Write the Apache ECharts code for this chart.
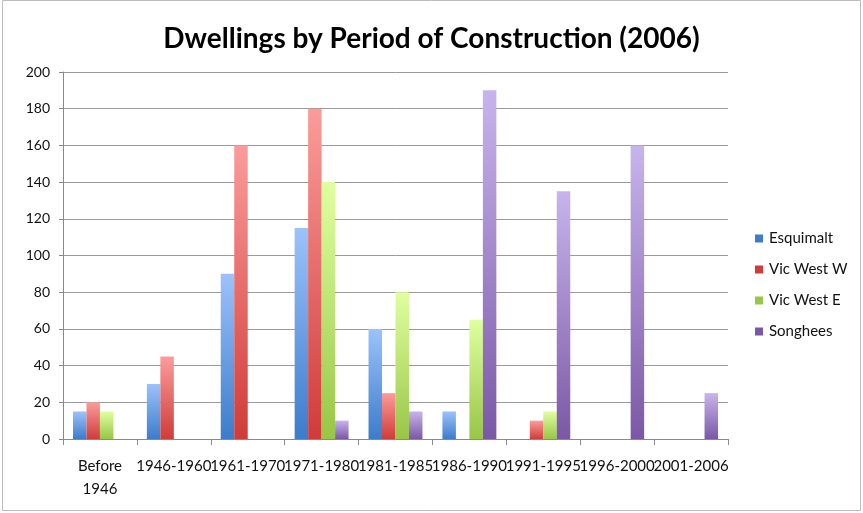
<!DOCTYPE html>
<html>
<head>
<meta charset="utf-8">
<script src="https://cdn.jsdelivr.net/npm/echarts@6/dist/echarts.min.js"></script>
<style>
html,body{margin:0;padding:0;background:#fff;}
#chart{width:863px;height:513px;}
</style>
</head>
<body>
<div id="chart"></div>
<script>
// Construction periods (x categories)
const periods = ['Before\n1946', '1946-1960', '1961-1970', '1971-1980', '1981-1985', '1986-1990', '1991-1995', '1996-2000', '2001-2006'];

// Dwelling counts per neighbourhood
const esquimalt = [15, 30, 90, 115, 60, 15, 0, 0, 0];
const vicWestW  = [20, 45, 160, 180, 25, 0, 10, 0, 0];
const vicWestE  = [15, 0, 0, 140, 80, 65, 15, 0, 0];
const songhees  = [0, 0, 0, 10, 15, 190, 135, 160, 25];

const seriesNames = ['Esquimalt', 'Vic West W', 'Vic West E', 'Songhees'];
const seriesData = [esquimalt, vicWestW, vicWestE, songhees];

// Top/bottom gradient colours for each series
const palette = [
  ['#9cc2fb', '#3c7ccb'],
  ['#fb9c9a', '#cf3c3a'],
  ['#e0ffa0', '#98c646'],
  ['#c8b4ec', '#7a58a6']
];

const FONT = 'Lato';

const chart = echarts.init(document.getElementById('chart'), null, { renderer: 'canvas' });

const series = seriesNames.map((name, i) => ({
  name: name,
  type: 'bar',
  data: seriesData[i],
  barGap: '0%',
  barCategoryGap: '27%',
  itemStyle: {
    color: new echarts.graphic.LinearGradient(0, 0, 0, 1, [
      { offset: 0, color: palette[i][0] },
      { offset: 1, color: palette[i][1] }
    ])
  },
  emphasis: { disabled: true }
}));

chart.setOption({
  animation: false,
  backgroundColor: '#ffffff',
  textStyle: { fontFamily: FONT },
  title: {
    text: 'Dwellings by Period of Construction (2006)',
    left: 'center',
    top: 20,
    textStyle: { fontFamily: FONT, fontSize: 28, fontWeight: 'bold', color: '#000' }
  },
  graphic: [{
    type: 'rect',
    shape: { x: 2.5, y: 0.5, width: 858, height: 510 },
    style: { fill: 'none', stroke: '#bdbdbd', lineWidth: 1 },
    silent: true
  }],
  legend: {
    orient: 'vertical',
    left: 755,
    top: 231,
    padding: 0,
    itemWidth: 8,
    itemHeight: 8,
    itemGap: 16,
    icon: 'rect',
    data: seriesNames.map((n, i) => ({ name: n, itemStyle: { color: palette[i][1] } })),
    textStyle: { fontFamily: FONT, fontSize: 15, color: '#111', padding: [0, 0, 0, 1] }
  },
  grid: { left: 63, right: 135, top: 72, bottom: 74, containLabel: false },
  xAxis: {
    type: 'category',
    data: periods,
    axisLine: { show: true, lineStyle: { color: '#8a8a8a', width: 1 } },
    axisTick: { show: true, length: 6, lineStyle: { color: '#8a8a8a' }, alignWithLabel: false },
    axisLabel: {
      interval: 0,
      fontFamily: FONT,
      fontSize: 15,
      color: '#111',
      margin: 16,
      lineHeight: 23
    },
    splitLine: { show: false }
  },
  yAxis: {
    type: 'value',
    min: 0,
    max: 200,
    interval: 20,
    axisLine: { show: true, lineStyle: { color: '#8a8a8a', width: 1 } },
    axisTick: { show: true, length: 4, lineStyle: { color: '#8a8a8a' } },
    axisLabel: { fontFamily: FONT, fontSize: 14, color: '#111', margin: 13 },
    splitLine: { show: true, lineStyle: { color: '#9a9a9a', width: 1 } }
  },
  series: series
});
</script>
</body>
</html>
